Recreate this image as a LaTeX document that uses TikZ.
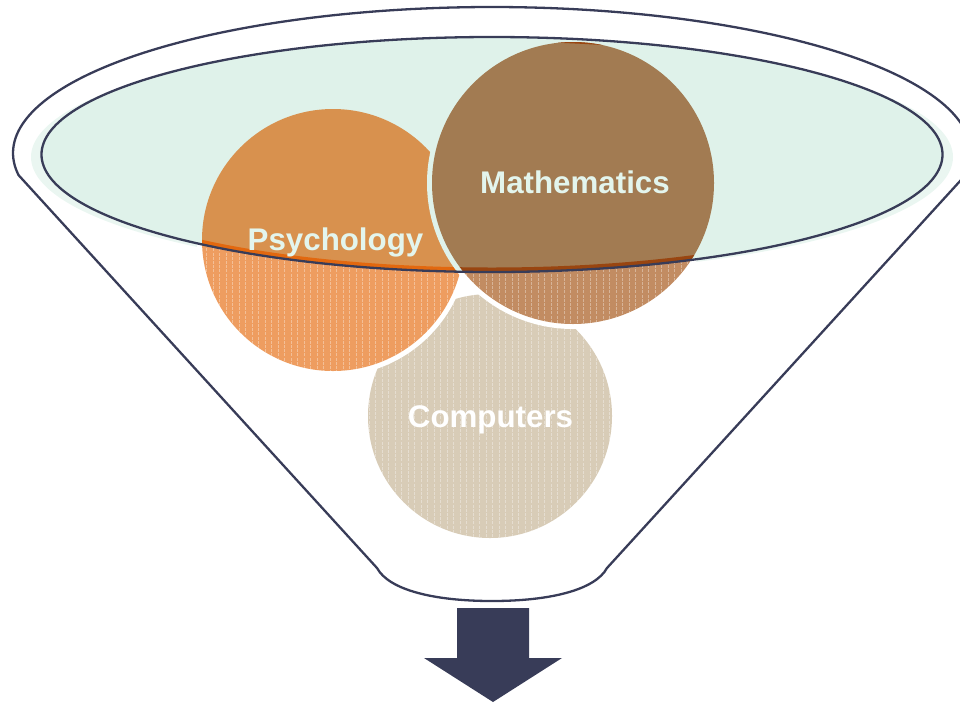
\documentclass[tikz,border=0pt]{standalone}
\usepackage{fontspec}
\newfontfamily\lblfont{Liberation Sans}
\definecolor{navy}{HTML}{383C58}
\definecolor{mint}{HTML}{DFF2EA}
\definecolor{halo}{HTML}{EAF6F1}
\definecolor{textc}{HTML}{E3F5ED}
\definecolor{psychIn}{HTML}{D8914E}
\definecolor{psychOut}{HTML}{EE9D60}
\definecolor{mathIn}{HTML}{A27B52}
\definecolor{mathOut}{HTML}{C28C62}
\definecolor{compOut}{HTML}{D8CCB7}
\definecolor{rimPsych}{HTML}{E2680F}
\definecolor{rimMath}{HTML}{994510}
% a disc with a white rim and faint vertical stripes
\newcommand\stripedDisc[3]{%
  \fill[white] (#1) circle ({#2+5});
  \fill[#3] (#1) circle (#2);
  \begin{scope}
    \clip (#1) circle (#2);
    \foreach \sx in {200,206.5,...,720} \draw[stripe] (\sx,30) -- (\sx,545);
  \end{scope}}
\begin{document}
\begin{tikzpicture}[x=1pt,y=-1pt,
  outline/.style={draw=navy, line width=2.3pt, line join=round},
  lbl/.style={font=\lblfont\bfseries\fontsize{31.3}{36}\selectfont, text=textc, inner sep=0pt, anchor=base},
  stripe/.style={draw=white, line width=0.9pt, opacity=0.35, dash pattern=on 3pt off 1.2pt},
  rim/.style={line width=9pt}]
\useasboundingbox (0,0) rectangle (960,702);

\coordinate (psyC) at (333,240);
\coordinate (mathC) at (573,183);
\coordinate (compC) at (490,416);
\coordinate (rimC) at (492,154.5);

% soft glow around the funnel mouth
\fill[halo] (492,157) ellipse (461 and 117);

% the three discs, lower (striped) look
\stripedDisc{compC}{122}{compOut}
\stripedDisc{psyC}{131}{psychOut}
\stripedDisc{mathC}{141}{mathOut}

% the discs as seen through the funnel mouth
\begin{scope}
  \clip (rimC) ellipse (450.5 and 117.5);
  \fill[mint] (0,0) rectangle (960,702);
  \fill[psychIn] (psyC) circle (131);
  \begin{scope}
    \clip (psyC) circle (131);
    \draw[rim, rimPsych] (rimC) ellipse (450.5 and 117.5);
  \end{scope}
  \fill[mint] (mathC) circle (146);
  \fill[mathIn] (mathC) circle (141);
  \begin{scope}
    \clip (mathC) circle (141);
    \draw[rim, rimMath] (rimC) ellipse (450.5 and 117.5);
  \end{scope}
\end{scope}

% funnel mouth and body
\draw[outline] (rimC) ellipse (450.5 and 117.5);
\draw[outline] plot[domain=171.3:368.7, samples=150, smooth] ({492+479*cos(\x)}, {153+146*sin(\x)})
  -- (607,568) .. controls (595,590) and (550,601) .. (492,601)
  .. controls (434,601) and (389,590) .. (377,568) -- cycle;

% labels
\node[lbl] (psy) at (335.5,250) {Psychology};
\node[lbl] (math) at (575,193) {Mathematics};
\node[lbl, text=white] (comp) at (490.5,427) {Computers};

% output arrow
\fill[navy] (457,608) -- (529,608) -- (529,658) -- (562,658) -- (493,702)
  -- (424,658) -- (457,658) -- cycle;
\end{tikzpicture}
\end{document}
